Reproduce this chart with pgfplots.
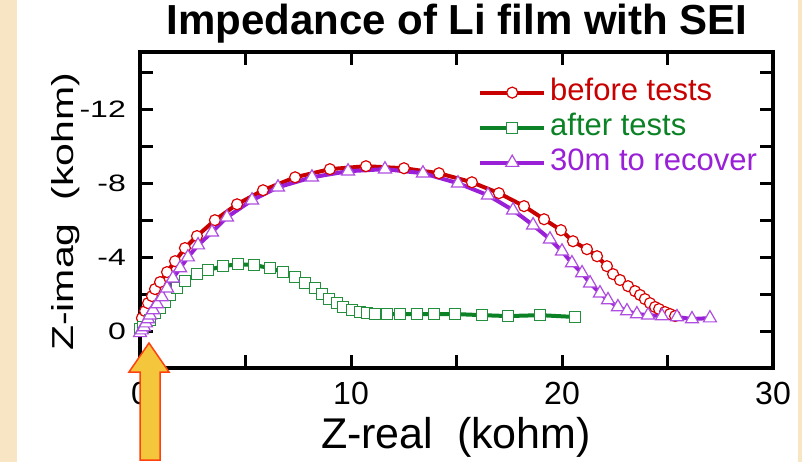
\documentclass[border=0pt]{standalone}
\usepackage{fontspec}
\setmainfont{Liberation Sans}
\usepackage{graphicx}
\usepackage{pgfplots}
\pgfplotsset{compat=1.18}
\definecolor{paper}{HTML}{F7E5C4}
\definecolor{cred}{HTML}{C80000}
\definecolor{cgreen}{HTML}{0A8225}
\definecolor{cpurple}{HTML}{9A20D8}
\definecolor{arrowfill}{HTML}{F4C63C}
\definecolor{arrowline}{HTML}{FF4010}
\newcommand{\sq}[1]{\scalebox{1}[0.74]{#1}}

\begin{document}
\begin{tikzpicture}
\fill[white] (0pt,0pt) rectangle (802pt,-462pt);
\fill[paper] (0pt,0pt) rectangle (17pt,-462pt);
\fill[paper] (798pt,0pt) rectangle (802pt,-462pt);

\begin{axis}[
    at={(456.5pt,-210pt)}, anchor=center,
    scale only axis, width=633pt, height=316pt,
    xmin=0, xmax=30, ymin=-15.1, ymax=2, y dir=reverse,
    clip=false,
    axis line style={line width=3.5pt},
    tick align=inside, major tick length=13pt,
    tick style={line width=3pt, black},
    xtick={0,5,...,30}, xticklabels={0,,10,,20,,30},
    ytick={-14,-12,...,0}, yticklabels={,\sq{-12},,\sq{-8},,\sq{-4},,\sq{0}},
    xticklabel style={font=\fontsize{32}{32}\selectfont, inner sep=0pt, yshift=-14pt},
    yticklabel style={font=\fontsize{32}{32}\selectfont, inner sep=0pt, xshift=-14pt},
    legend cell align=left,
    legend style={draw=none, fill=none, at={(axis description cs:0.534,0.918)},
        anchor=north west, inner sep=0pt, column sep=4pt, row sep=6pt,
        font=\fontsize{31}{31}\selectfont,
        nodes={inner sep=0pt, text height=22pt, text depth=7pt}},
    legend image code/.code={
        \draw[mark repeat=2,mark phase=2,#1] plot coordinates {(0pt,0pt) (32pt,0pt) (64pt,0pt)};},
]

% before tests
\addplot[cred, line width=4pt, mark=*, mark size=5.5pt,
    mark options={fill=white, draw=red!85!black, line width=1.2pt}]
coordinates {
(0.0,-0.1) (0.09,-0.70) (0.24,-1.08) (0.38,-1.51) (0.57,-1.89) (0.71,-2.27)
(0.95,-2.65) (1.28,-3.19) (1.66,-3.78) (2.13,-4.49) (2.70,-5.14) (3.55,-6.0)
(4.60,-6.86) (5.83,-7.62) (7.35,-8.32) (9.00,-8.76) (10.71,-8.92) (12.51,-8.81)
(14.17,-8.54) (15.73,-8.05) (17.01,-7.46) (18.20,-6.76) (19.15,-6.05) (19.95,-5.46)
(20.52,-4.86) (21.18,-4.43) (21.66,-4.05) (22.13,-3.51) (22.42,-3.08) (22.75,-2.76)
(23.13,-2.43) (23.46,-2.16) (23.70,-1.95) (23.93,-1.73) (24.17,-1.51) (24.41,-1.30)
(24.60,-1.19) (24.88,-1.03) (25.12,-0.92) (25.36,-0.81)
};
\addlegendentry{\textcolor{cred}{before tests}}

% after tests
\addplot[cgreen, line width=4pt, mark=square*, mark size=5.5pt,
    mark options={fill=white, draw=cgreen!90, line width=1.2pt}]
coordinates {
(0.0,-0.1) (0.14,-0.22) (0.47,-0.59) (0.71,-0.97) (0.95,-1.24) (1.18,-1.57)
(1.42,-1.95) (1.75,-2.32) (2.13,-2.70) (2.70,-3.08) (3.22,-3.30) (3.93,-3.51)
(4.64,-3.62) (5.40,-3.57) (6.16,-3.41) (6.78,-3.19) (7.35,-2.92) (7.82,-2.59)
(8.29,-2.32) (8.63,-2.0) (8.96,-1.73) (9.34,-1.51) (9.62,-1.30) (10.05,-1.14)
(10.43,-1.03) (10.76,-0.97) (11.14,-0.92) (11.71,-0.92) (12.32,-0.92) (13.13,-0.92)
(13.93,-0.92) (14.93,-0.92) (16.21,-0.86) (17.44,-0.81) (18.96,-0.86) (20.62,-0.76)
};
\addlegendentry{\textcolor{cgreen}{after tests}}

% 30m to recover
\addplot[cpurple, line width=4pt, mark=triangle*, mark size=7.5pt,
    mark options={fill=white, draw=cpurple!80, line width=1.2pt}]
coordinates {
(0.0,0.1) (0.09,-0.05) (0.19,-0.22) (0.28,-0.43) (0.38,-0.65) (0.47,-0.86)
(0.62,-1.14) (0.81,-1.46) (1.04,-1.84) (1.28,-2.32) (1.56,-2.86) (1.90,-3.41)
(2.27,-4.0) (2.75,-4.65) (3.41,-5.35) (4.12,-6.16) (5.31,-7.08) (6.54,-7.78)
(8.15,-8.32) (9.86,-8.65) (11.61,-8.76) (13.41,-8.54) (15.07,-8.0) (16.49,-7.35)
(17.68,-6.54) (18.63,-5.73) (19.43,-4.97) (20.0,-4.32) (20.47,-3.68) (20.95,-3.14)
(21.33,-2.59) (21.80,-2.05) (22.18,-1.68) (22.65,-1.30) (23.08,-1.08) (23.55,-0.92)
(24.08,-0.86) (24.74,-0.81) (25.45,-0.76) (26.16,-0.65) (27.01,-0.70)
};
\addlegendentry{\textcolor{cpurple}{30m to recover}}
\end{axis}

\node[anchor=base, font=\fontsize{42}{42}\selectfont\bfseries] at (457pt,-35pt) {Impedance of Li film with SEI};
\node[anchor=base, font=\fontsize{43}{43}\selectfont] at (456pt,-448pt) {Z-real\ \ (kohm)};
\node[anchor=base, rotate=90, font=\fontsize{41}{41}\selectfont] at (73pt,-212pt) {\sq{Z-imag\ \ (kohm)}};

\filldraw[fill=arrowfill, draw=arrowline, line width=1.5pt]
  (149pt,-343pt) -- (169pt,-372pt) -- (160pt,-372pt) -- (160pt,-460pt)
  -- (140pt,-460pt) -- (140pt,-372pt) -- (129pt,-372pt) -- cycle;

\pgfresetboundingbox
\useasboundingbox (0pt,0pt) rectangle (802pt,-462pt);
\end{tikzpicture}
\end{document}
